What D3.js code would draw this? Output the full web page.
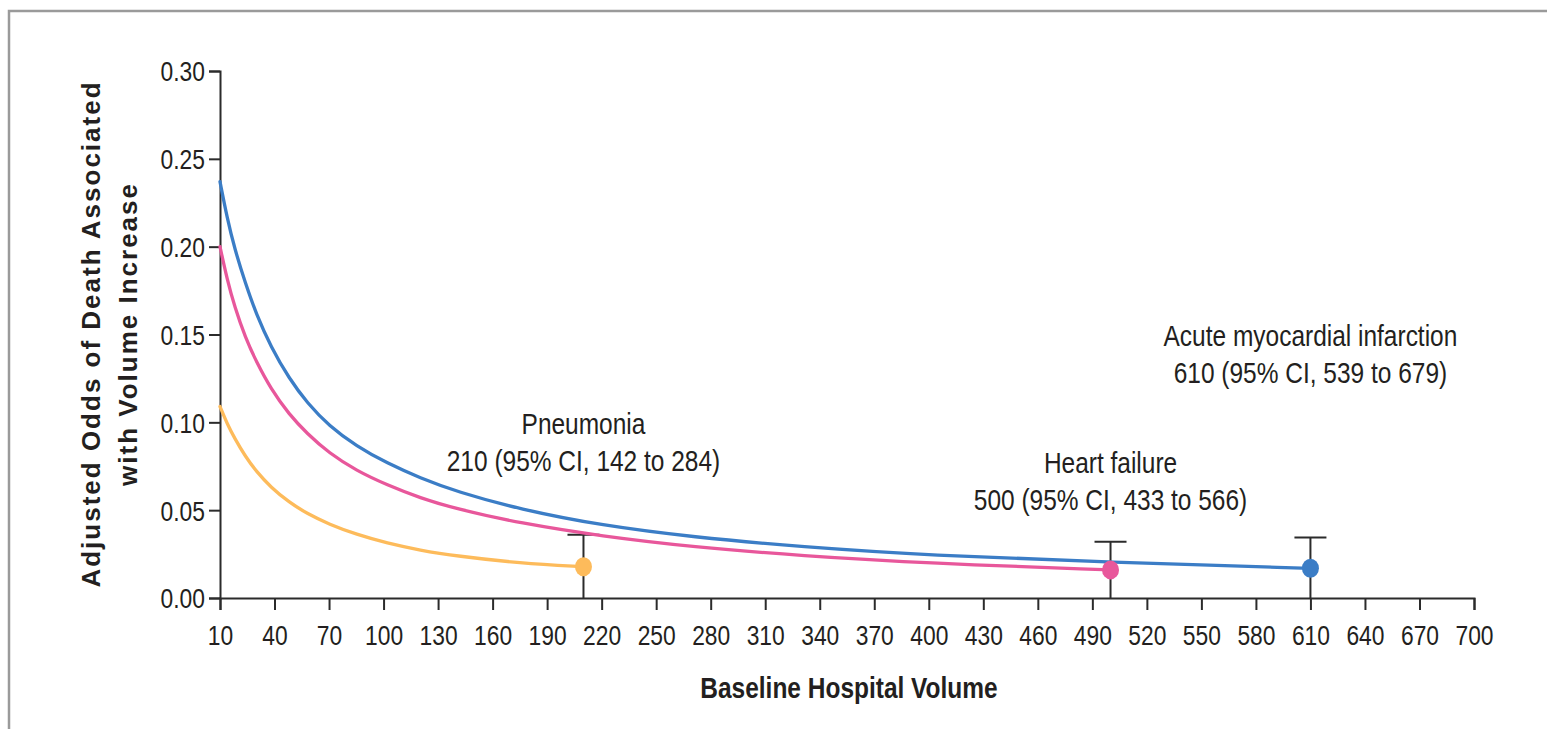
<!DOCTYPE html>
<html>
<head>
<meta charset="utf-8">
<script src="https://cdn.jsdelivr.net/npm/d3@7/dist/d3.min.js"></script>
<style>
  html, body { margin: 0; padding: 0; background: #fff; }
  svg { display: block; }
  text { font-family: "Liberation Sans", Arial, sans-serif; fill: #231f20; }
</style>
</head>
<body>
<svg id="chart" width="1547" height="729"></svg>
<script>
// ---------------- data ----------------
const conditions = ["Pneumonia", "Heart failure", "Acute myocardial infarction"];
const ciLabels = ["210 (95% CI, 142 to 284)", "500 (95% CI, 433 to 566)", "610 (95% CI, 539 to 679)"];

const volumePneumonia = [10, 14, 18, 24, 30, 38, 48, 58, 70, 85, 102, 120, 140, 175, 210];
const oddsPneumonia   = [0.109, 0.099, 0.091, 0.0805, 0.072, 0.063, 0.0545, 0.048, 0.042, 0.0362, 0.0312, 0.0272, 0.0239, 0.0198, 0.0178];

const volumeHeartFailure = [10, 14, 18, 24, 30, 38, 48, 58, 70, 85, 102, 120, 140, 175, 220, 270, 330, 400, 500];
const oddsHeartFailure   = [0.200, 0.181, 0.166, 0.148, 0.1345, 0.119, 0.1045, 0.0935, 0.0825, 0.0725, 0.0643, 0.057, 0.0507, 0.0426, 0.0352, 0.0291, 0.024, 0.0197, 0.016];

const volumeAMI = [10, 14, 18, 24, 30, 38, 48, 58, 70, 85, 102, 120, 140, 175, 220, 270, 330, 400, 500, 610];
const oddsAMI   = [0.237, 0.216, 0.199, 0.179, 0.1615, 0.143, 0.125, 0.111, 0.098, 0.0865, 0.0767, 0.0684, 0.0606, 0.0505, 0.0413, 0.0347, 0.0291, 0.0243, 0.0203, 0.0169];

const thresholdVolume = [210, 500, 610];
const thresholdOdds   = [0.0178, 0.016, 0.0169];
const thresholdUpper  = [0.036, 0.032, 0.0345];
const thresholdLower  = [0, 0, 0];

const xTicks = d3.range(10, 701, 30);
const yTicks = [0, 0.05, 0.10, 0.15, 0.20, 0.25, 0.30];

// ---------------- layout / style ----------------
const colors = ["#fdbb5b", "#e8579b", "#3b7dc6"];
const labelYOffset = [0.0934, 0.0712, 0.1435]; // baseline of first label line, data units
const SX = 0.83; // horizontal condensing of the typeface
const svg = d3.select("#chart");

function condText(parent, tx, ty, str, size, anchor, weight) {
  const g = parent.append("g").attr("transform", `translate(${tx},${ty}) scale(${SX},1)`);
  return g.append("text").attr("x", 0).attr("y", 0).attr("text-anchor", anchor || "middle")
    .style("font-size", size + "px").style("font-weight", weight || "normal").text(str);
}

// frame
svg.append("rect").attr("x", 9).attr("y", 11).attr("width", 1560).attr("height", 740)
  .attr("fill", "none").attr("stroke", "#9a9a9a").attr("stroke-width", 2.5);

const x = d3.scaleLinear().domain([10, 700]).range([220, 1474]);
const y = d3.scaleLinear().domain([0, 0.30]).range([598, 71]);

// axes
const yAxis = svg.append("g").attr("transform", "translate(220,0)")
  .call(d3.axisLeft(y).tickValues(yTicks).tickFormat(d3.format(".2f")).tickSize(11).tickPadding(3));
const xAxis = svg.append("g").attr("transform", "translate(0,598)")
  .call(d3.axisBottom(x).tickValues(xTicks).tickFormat(d3.format("d")).tickSize(12).tickPadding(15));

[yAxis, xAxis].forEach(g => {
  g.select(".domain").attr("stroke", "#2b2b2b").attr("stroke-width", 2);
  g.selectAll(".tick line").attr("stroke", "#2b2b2b").attr("stroke-width", 2);
  g.selectAll(".tick text").attr("fill", "#231f20").style("font-size", "27.5px")
    .style("font-family", "'Liberation Sans', Arial, sans-serif")
    .attr("transform", `scale(${SX},1)`);
});
yAxis.selectAll(".tick text").attr("dy", "0.36em").attr("x", -15 / SX);

// axis titles
condText(svg, 849, 698, "Baseline Hospital Volume", 29.5, "middle", "bold");

const yTitle = svg.append("g").attr("transform", "translate(0,334) rotate(-90)");
yTitle.append("text").attr("x", 0).attr("y", 100).attr("text-anchor", "middle")
  .style("font-size", "26px").style("font-weight", "bold").style("letter-spacing", "2px")
  .text("Adjusted Odds of Death Associated");
yTitle.append("text").attr("x", 0).attr("y", 137).attr("text-anchor", "middle")
  .style("font-size", "26px").style("font-weight", "bold").style("letter-spacing", "2px")
  .text("with Volume Increase");

// curves
const series = [
  d3.zip(volumePneumonia, oddsPneumonia),
  d3.zip(volumeHeartFailure, oddsHeartFailure),
  d3.zip(volumeAMI, oddsAMI)
];
const line = d3.line().x(d => x(d[0])).y(d => y(d[1])).curve(d3.curveBasis);

// error bars
thresholdVolume.forEach((v, i) => {
  const g = svg.append("g");
  g.append("line").attr("x1", x(v)).attr("x2", x(v)).attr("y1", y(thresholdLower[i])).attr("y2", y(thresholdUpper[i]))
    .attr("stroke", "#2b2b2b").attr("stroke-width", 2);
  g.append("line").attr("x1", x(v) - 16).attr("x2", x(v) + 16).attr("y1", y(thresholdUpper[i])).attr("y2", y(thresholdUpper[i]))
    .attr("stroke", "#2b2b2b").attr("stroke-width", 2);
});

series.forEach((s, i) => {
  svg.append("path").datum(s).attr("d", line).attr("fill", "none")
    .attr("stroke", colors[i]).attr("stroke-width", 3.3).attr("stroke-linecap", "round");
});

thresholdVolume.forEach((v, i) => {
  svg.append("ellipse").attr("cx", x(v)).attr("cy", y(thresholdOdds[i])).attr("rx", 8.5).attr("ry", 9.5)
    .attr("fill", colors[i]);
});

// annotations
thresholdVolume.forEach((v, i) => {
  const by = y(labelYOffset[i]);
  condText(svg, x(v), by, conditions[i], 29.5, "middle");
  condText(svg, x(v), by + 37, ciLabels[i], 29.5, "middle");
});
</script>
</body>
</html>
